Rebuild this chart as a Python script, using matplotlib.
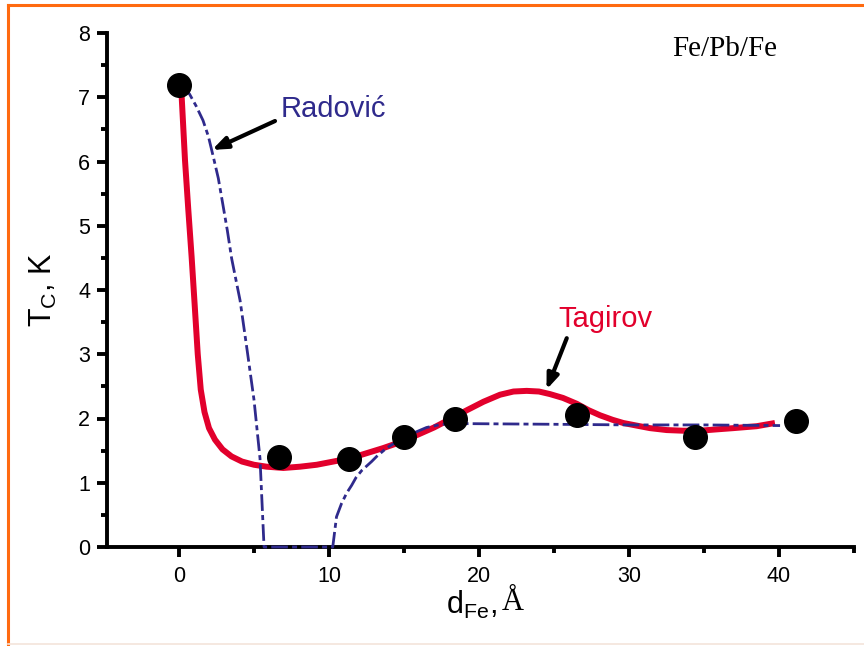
import numpy as np
import matplotlib.pyplot as plt
from matplotlib.lines import Line2D
from matplotlib.ticker import MultipleLocator

# measured Tc of the Fe/Pb/Fe trilayers
d_fe = [0.0, 6.67, 11.33, 15.0, 18.4, 26.5, 34.4, 41.1]
tc = [7.19, 1.40, 1.37, 1.71, 2.00, 2.05, 1.71, 1.96]

# Tagirov theory curve
tag_x = [0.0, 0.18, 0.4, 0.62, 0.84, 1.05, 1.25, 1.45, 1.7, 2.0, 2.4, 2.9,
         3.5, 4.2, 5.0, 5.84, 6.96, 8.07, 9.18, 10.29, 11.4, 12.51, 13.62,
         14.73, 15.84, 17.0, 18.07, 19.2, 20.29, 21.4, 22.3, 23.18, 24.0,
         24.73, 25.6, 26.51, 27.3, 28.07, 28.9, 29.62, 30.5, 31.4, 32.51,
         33.6, 34.73, 35.8, 36.95, 38.51, 39.73]
tag_y = [7.2, 7.0, 6.02, 5.25, 4.52, 3.75, 3.0, 2.45, 2.1, 1.85, 1.67, 1.52,
         1.41, 1.33, 1.28, 1.25, 1.23, 1.25, 1.28, 1.33, 1.38, 1.46, 1.54,
         1.63, 1.74, 1.86, 1.99, 2.13, 2.26, 2.37, 2.42, 2.43, 2.42,
         2.38, 2.32, 2.23, 2.13, 2.05, 1.98, 1.93, 1.89, 1.85, 1.82,
         1.81, 1.81, 1.83, 1.85, 1.88, 1.93]

# Radovic theory curve
rad_x = [0.2, 0.7, 1.15, 1.6, 1.96, 2.29, 2.62, 2.91, 3.22, 3.51, 4.07,
         4.55, 5.0, 5.4, 5.67, 10.25, 10.5, 10.84, 11.18, 11.51, 11.8, 12.18,
         12.51, 12.84, 13.18, 13.84, 14.6, 15.5, 16.5, 17.5, 19.2, 25.0,
         30.0, 35.0, 40.07]
rad_y = [7.18, 7.05, 6.86, 6.64, 6.39, 6.07, 5.74, 5.35, 4.93, 4.49, 3.84,
         3.05, 2.29, 1.38, 0.0, 0.0, 0.47, 0.68, 0.84, 0.96, 1.08, 1.19,
         1.26, 1.33, 1.41, 1.54, 1.65, 1.76, 1.86, 1.91, 1.92, 1.91,
         1.90, 1.90, 1.89]

red = "#e2002c"
navy = "#2f2a8c"
sans = "Liberation Sans"
serif = "Liberation Serif"

plt.rcParams["font.family"] = sans

fig = plt.figure(figsize=(8.64, 6.46), dpi=100)
ax = fig.add_axes([107 / 864, 99 / 646, 747 / 864, 514 / 646])

ax.plot(rad_x, rad_y, color=navy, lw=2.0, ls=(0, (6, 1.5, 1.8, 1.5)),
        zorder=4, clip_on=False)
ax.plot(tag_x, tag_y, color=red, lw=4.3, solid_capstyle="butt",
        solid_joinstyle="round", zorder=3)
ax.plot(d_fe, tc, "o", color="black", ms=17, zorder=5, clip_on=False)

ax.set_xlim(-4.8, 45)
ax.set_ylim(0, 8)
ax.xaxis.set_major_locator(MultipleLocator(10))
ax.xaxis.set_minor_locator(MultipleLocator(5))
ax.yaxis.set_major_locator(MultipleLocator(1))
ax.yaxis.set_minor_locator(MultipleLocator(0.5))

for side in ("top", "right"):
    ax.spines[side].set_visible(False)
for side in ("left", "bottom"):
    ax.spines[side].set_linewidth(2.8)
ax.tick_params(which="major", length=7, width=2.8, labelsize=15.5, pad=5,
               direction="out")
ax.tick_params(which="minor", length=4, width=2.8, direction="out")
ax.tick_params(axis="x", pad=7)

# arrows and curve names
arrow = dict(arrowstyle="-|>,head_length=0.9,head_width=0.35", color="black",
             lw=3, shrinkA=0, shrinkB=0)
ax.annotate("", xy=(2.2, 6.18), xytext=(6.4, 6.63), arrowprops=arrow)
ax.annotate("", xy=(24.5, 2.45), xytext=(25.85, 3.25), arrowprops=arrow)
ax.text(6.75, 6.69, "Radović", color=navy, fontsize=21, va="baseline")
ax.text(25.3, 3.43, "Tagirov", color=red, fontsize=21, va="baseline")
ax.text(32.9, 7.64, "Fe/Pb/Fe", family=serif, fontsize=21, va="baseline")

ax.set_ylabel(r"T$_\mathregular{C}$, K", fontsize=22, labelpad=14)
xl = fig.text(446 / 864, 41 / 646, r"d$_\mathregular{Fe}$,", fontsize=22,
              va="center", ha="left")
fig.canvas.draw()
x1 = xl.get_window_extent().x1
fig.text((x1 + 5) / 864, 44 / 646, "Å", family=serif, fontsize=22,
         va="center", ha="left")

# page frame
fig.add_artist(Line2D([8 / 864, 1], [1 - 5 / 646, 1 - 5 / 646],
                      color="#ff6a10", lw=2.2))
fig.add_artist(Line2D([8 / 864, 8 / 864], [0, 1 - 5 / 646],
                      color="#ff6a10", lw=2.2))
fig.add_artist(Line2D([8 / 864, 1], [2 / 646, 2 / 646],
                      color="#f3e4da", lw=1.2))

fig.savefig("out.png", dpi=100)
